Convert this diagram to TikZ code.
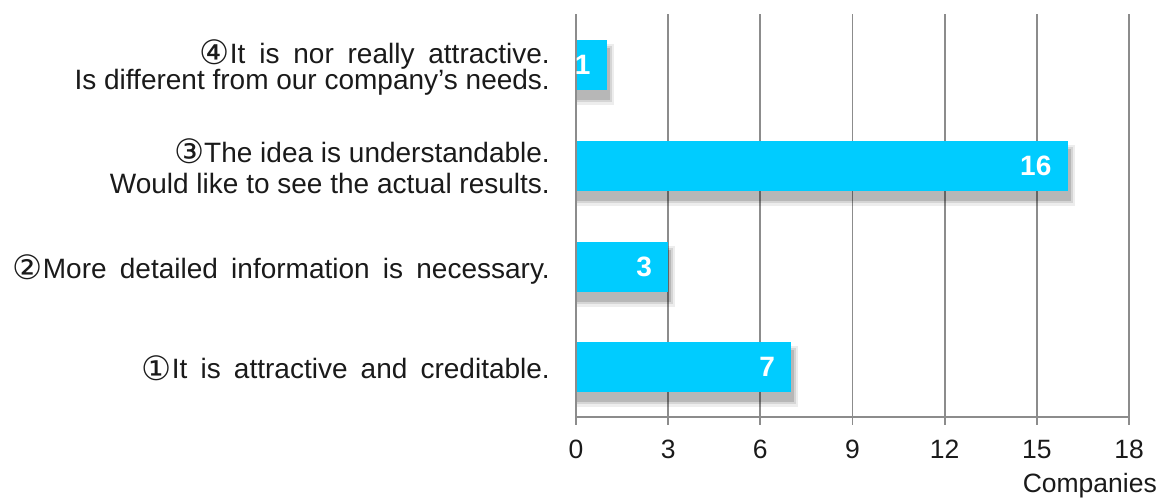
\documentclass[tikz,border=0pt]{standalone}
\usepackage{fontspec}
\setmainfont{Liberation Sans}
\newfontfamily\ympyra{DejaVu Sans}[Scale=1.2]
\definecolor{syaani}{HTML}{00CCFF}
\definecolor{viiva}{HTML}{8C8C8C}
\definecolor{teksti}{HTML}{1A1A1A}
\begin{document}
\begin{tikzpicture}[x=1pt,y=-1pt,
  selite/.style={anchor=base east,inner sep=0pt,text=teksti,font=\fontsize{28}{30}\selectfont},
  luku/.style={anchor=east,inner sep=0pt,text=white,font=\fontsize{28}{30}\selectfont\bfseries},
  asteikko/.style={anchor=base,inner sep=0pt,text=teksti,font=\fontsize{26.5}{30}\selectfont}]
\useasboundingbox (0,0) rectangle (1165,499);
\newcommand\akseli[2]{
\path[draw=viiva,line width=1.8pt] (#1,14) -- (#1,425);
\node[asteikko] (t#2) at (#1,458) {#2};
}
\newcommand\palkki[3]{
\path[fill=black,opacity=0.07] (577,#3-21) rectangle (576+#2*30.72+7,#3+25+15);
\path[fill=black,opacity=0.1] (577,#3-19) rectangle (576+#2*30.72+5,#3+25+12);
\path[fill=black,opacity=0.14] (577,#3-17) rectangle (576+#2*30.72+3,#3+25+10);
\path[fill=syaani] (577,#3-25) rectangle (576+#2*30.72,#3+25);
\node[luku] (#1) at (576+#2*30.72-16,#3) {#2};
}
\newcommand\nro[1]{\raisebox{-1.5pt}{\ympyra #1}}
\akseli{576}{0}
\akseli{668.2}{3}
\akseli{760.3}{6}
\akseli{852.5}{9}
\akseli{944.6}{12}
\akseli{1036.8}{15}
\akseli{1129}{18}
\path[draw=viiva,line width=1.8pt] (576,417) -- (1129,417);
\node[asteikko,anchor=base east] (yksikko) at (1157,492) {Companies};
\palkki{v4}{1}{65}
\palkki{v3}{16}{165.5}
\palkki{v2}{3}{266.5}
\palkki{v1}{7}{367}
\node[selite] (s4a) at (550,63) {\makebox[350pt][s]{\nro{④}It is nor really attractive.}};
\node[selite] (s4b) at (550,89) {Is different from our company’s needs.};
\node[selite] (s3a) at (550,162) {\nro{③}The idea is understandable.};
\node[selite] (s3b) at (550,193) {Would like to see the actual results.};
\node[selite] (s2) at (550,278) {\makebox[537pt][s]{\nro{②}More detailed information is necessary.}};
\node[selite] (s1) at (550,378.5) {\makebox[408pt][s]{\nro{①}It is attractive and creditable.}};
\end{tikzpicture}
\end{document}
